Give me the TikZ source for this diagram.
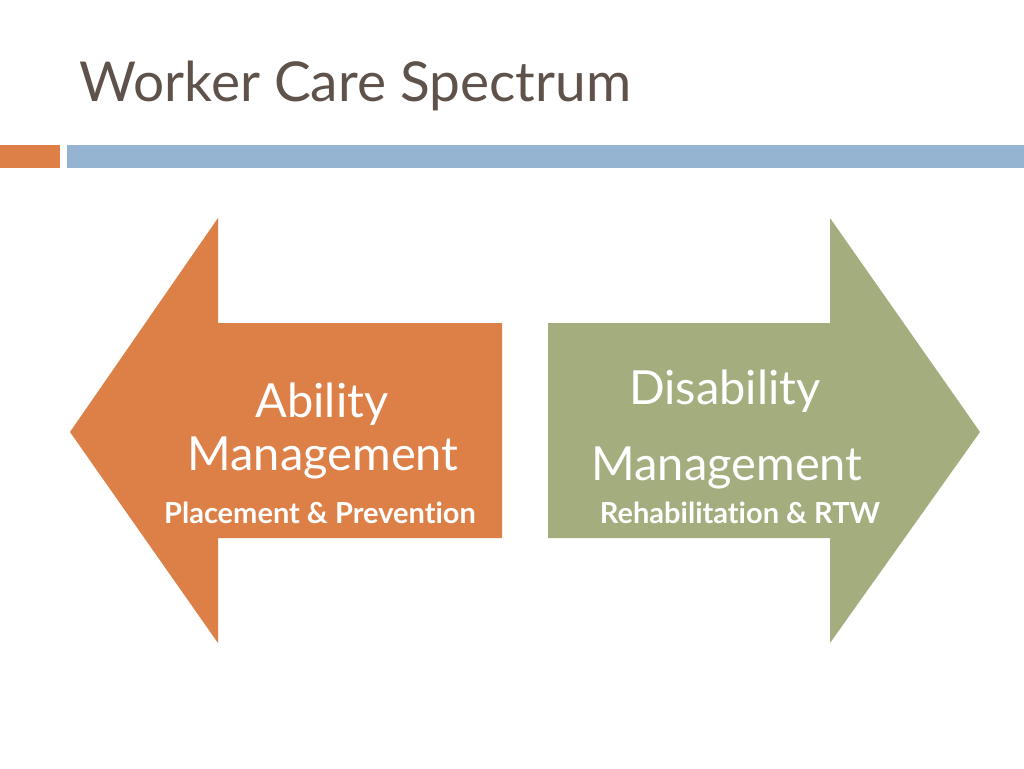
\documentclass[tikz,border=0pt]{standalone}
\usepackage{fontspec}
\setmainfont[Ligatures={NoCommon}]{Lato}
\usepackage{tikz}
\definecolor{arroworange}{RGB}{221,128,71}
\definecolor{arrowgreen}{RGB}{163,173,126}
\definecolor{barblue}{RGB}{148,180,210}
\definecolor{titlebrown}{RGB}{94,82,74}
\tikzset{
  big/.style={text=white,font=\fontsize{47}{50}\selectfont,anchor=center},
  small/.style={text=white,font=\fontsize{29}{32}\selectfont\bfseries,anchor=center}
}
\begin{document}
\begin{tikzpicture}[x=1pt,y=-1pt]

			\useasboundingbox[fill=white] (0,0) rectangle (1024,768);

			\node[anchor=west,text=titlebrown,font=\fontsize{55}{60}\selectfont] (title) at (76,86) {Worker Care Spectrum};

			\fill[arroworange] (0,145) rectangle (60,168);
			\fill[barblue] (67,145) rectangle (1024,168);

			\fill[arroworange] (70,432)--(218,218)--(218,323)--(502,323)--(502,538)--(218,538)--(218,643)--cycle;
			\fill[arrowgreen] (548,323)--(830,323)--(830,218)--(980,432)--(830,643)--(830,538)--(548,538)--cycle;

			\node[big] (abil) at (322,404) {Ability};
			\node[big] (amgmt) at (323,458) {Management};
			\node[small] (place) at (320,513) {Placement \& Prevention};

			\node[big] (disab) at (725,391) {Disability};
			\node[big] (dmgmt) at (727,468) {Management};
			\node[small] (rehab) at (740,513) {Rehabilitation \& RTW};
		\end{tikzpicture}
\end{document}
